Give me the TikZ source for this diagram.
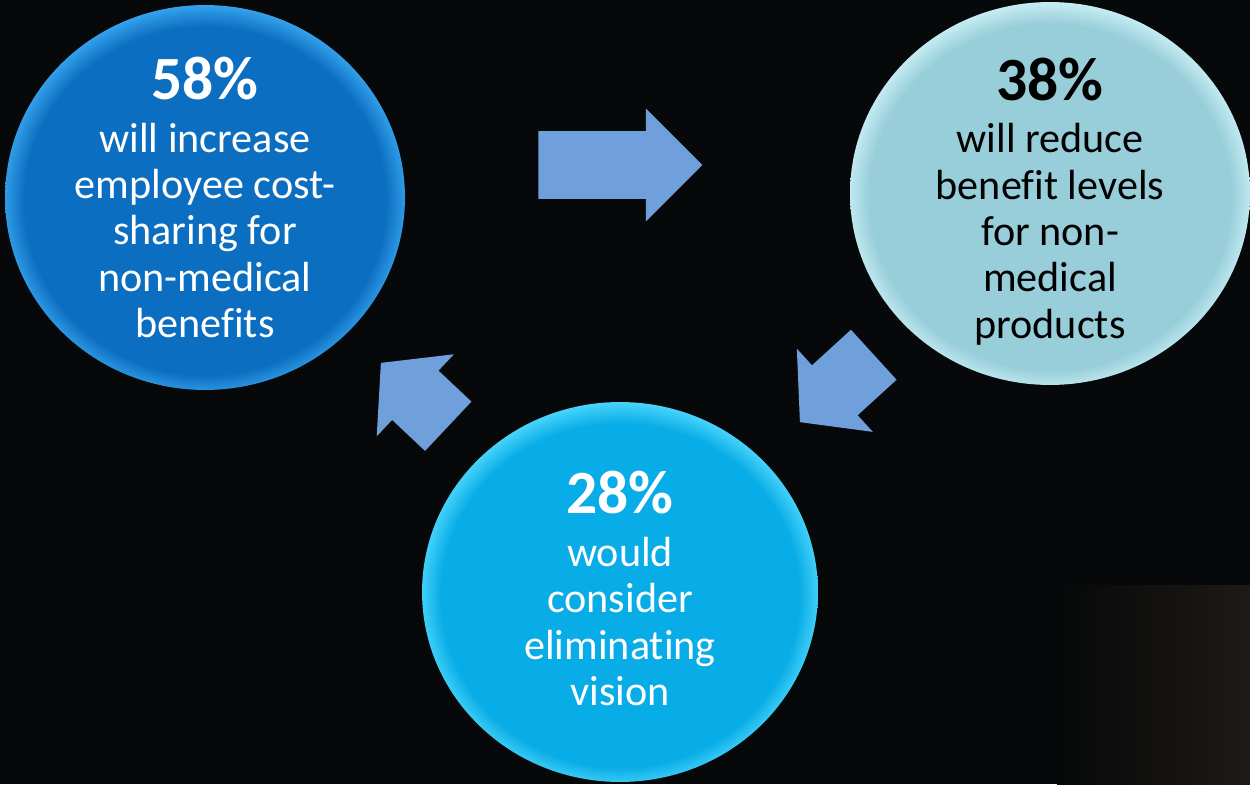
\documentclass[tikz,border=0pt]{standalone}
\usepackage{fontspec}
\setmainfont{Carlito}[Ligatures=NoCommon]
\usetikzlibrary{positioning, shapes.geometric, shapes.arrows}

\definecolor{bgdark}{RGB}{6,8,9}
\definecolor{patchbrown}{RGB}{30,26,22}
\definecolor{arrowblue}{RGB}{111,160,220}
\definecolor{costbase}{RGB}{12,110,192}
\definecolor{costrim}{RGB}{52,162,236}
\definecolor{reducebase}{RGB}{152,206,217}
\definecolor{reducerim}{RGB}{198,236,243}
\definecolor{elimbase}{RGB}{8,172,230}
\definecolor{elimrim}{RGB}{72,212,250}

% flat ball with a lighter rim, a bit heavier at the top
\pgfdeclareradialshading{costball}{\pgfpoint{0bp}{-0.8bp}}{color(0bp)=(costbase); color(22.6bp)=(costbase); color(25.4bp)=(costrim); color(50bp)=(costrim)}
\pgfdeclareradialshading{reduceball}{\pgfpoint{0bp}{-0.8bp}}{color(0bp)=(reducebase); color(22.6bp)=(reducebase); color(25.4bp)=(reducerim); color(50bp)=(reducerim)}
\pgfdeclareradialshading{elimball}{\pgfpoint{0bp}{-0.8bp}}{color(0bp)=(elimbase); color(22.6bp)=(elimbase); color(25.4bp)=(elimrim); color(50bp)=(elimrim)}

\newcommand{\pctnum}[1]{{\fontsize{35}{40}\selectfont\bfseries #1}}

\begin{document}
\begin{tikzpicture}[
        x=0.02cm, y=-0.02cm,
        ball/.style={ellipse, inner sep=0pt, shade, shading=#1},
        pct/.style={align=center, inner sep=0pt, font=\fontsize{24}{26.4}\selectfont},
        blockarrow/.style={single arrow, fill=arrowblue, inner xsep=0pt, inner ysep=0.67cm,
            single arrow head extend=0.45cm, anchor=tail, minimum height=#1}
    ]
        \fill[bgdark] (0,0) rectangle (1250,784);
        \shade[left color=bgdark, right color=patchbrown] (1057,585) rectangle (1250,784);

        \node[ball=costball, minimum width=8cm, minimum height=7.7cm] (cost) at (205,197.5) {};
        \node[ball=reduceball, minimum width=8cm, minimum height=7.66cm] (reduce) at (1050,193.5) {};
        \node[ball=elimball, minimum width=7.92cm, minimum height=7.6cm] (elim) at (620,592) {};

        \node[blockarrow=3.28cm, single arrow tip angle=90] (arrcr) at (538,165) {};
        \node[blockarrow=2cm, single arrow tip angle=100, rotate=222.4] (arrre) at (874,354.5) {};
        \node[blockarrow=1.85cm, single arrow tip angle=100, rotate=136.75] (arrec) at (448.5,426.5) {};

        \node[pct, white] (costtext) at (cost) {\pctnum{58\%}\\[3.5pt] will increase\\ employee cost-\\ sharing for\\ non-medical\\ benefits};
        \node[pct, black, yshift=-0.16cm] (reducetext) at (reduce) {\pctnum{38\%}\\[3.5pt] will reduce\\ benefit levels\\ for non-\\ medical\\ products};
        \node[pct, white, yshift=0.07cm] (elimtext) at (elim) {\pctnum{28\%}\\[3.5pt] would\\ consider\\ eliminating\\ vision};
    \end{tikzpicture}
\end{document}
